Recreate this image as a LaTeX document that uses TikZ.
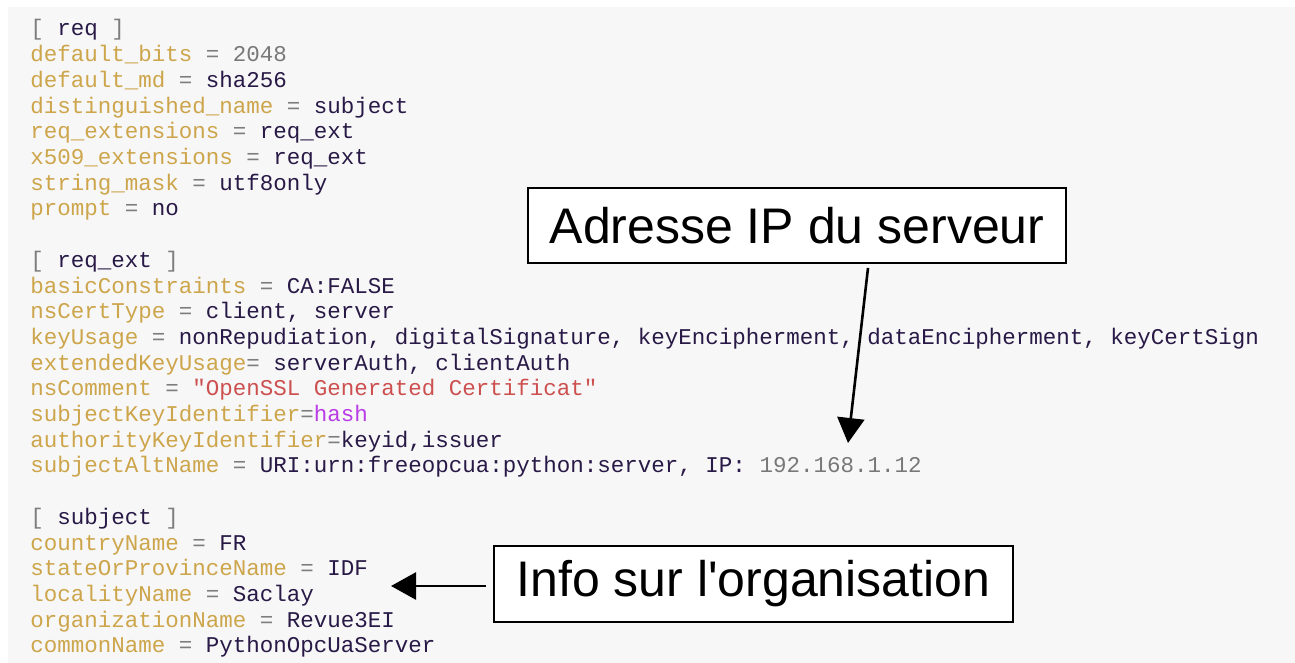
\documentclass[tikz,border=0pt]{standalone}
\usepackage{fontspec}
\setmainfont{Liberation Sans}
\setmonofont{Liberation Mono}
\usetikzlibrary{arrows.meta}
\definecolor{bggray}{RGB}{247,247,247}
\definecolor{keycol}{RGB}{205,165,75}
\definecolor{valcol}{RGB}{40,25,70}
\definecolor{punctcol}{RGB}{125,125,125}
\definecolor{numcol}{RGB}{120,120,120}
\definecolor{strcol}{RGB}{205,80,80}
\definecolor{hashcol}{RGB}{185,60,230}
\newcommand{\cfgkey}[1]{\textcolor{keycol}{#1}}
\newcommand{\cfgval}[1]{\textcolor{valcol}{#1}}
\newcommand{\cfgeq}[1]{\textcolor{punctcol}{#1}}
\newcommand{\cfgnum}[1]{\textcolor{numcol}{#1}}
\tikzstyle{codeline} = [anchor=base west, inner sep=0pt,
font=\ttfamily\fontsize{11.25}{12}\selectfont]
\tikzstyle{callout} = [rectangle,
draw=black,
line width=1pt,
fill=white,
inner sep=0pt,
text centered,
font=\fontsize{25}{30}\selectfont]
\tikzstyle{arrow} = [line width=1.3pt,-{Triangle[length=12.5pt,width=13.5pt]}]

\begin{document}
\begin{tikzpicture}[x=0.5pt, y=-0.5pt]
        \useasboundingbox (0,0) rectangle (1295,663);
        \fill[bggray] (8,7) rectangle (1295,663);

        % section [ req ]
        \node (req) [codeline] at (30,36) {\cfgeq{[} \cfgval{req} \cfgeq{]}};
        \node (default_bits) [codeline] at (30,61.7) {\cfgkey{default\_bits} \cfgeq{=} \cfgnum{2048}};
        \node (default_md) [codeline] at (30,87.4) {\cfgkey{default\_md} \cfgeq{=} \cfgval{sha256}};
        \node (dist_name) [codeline] at (30,113.1) {\cfgkey{distinguished\_name} \cfgeq{=} \cfgval{subject}};
        \node (req_extensions) [codeline] at (30,138.8) {\cfgkey{req\_extensions} \cfgeq{=} \cfgval{req\_ext}};
        \node (x509_extensions) [codeline] at (30,164.5) {\cfgkey{x509\_extensions} \cfgeq{=} \cfgval{req\_ext}};
        \node (string_mask) [codeline] at (30,190.2) {\cfgkey{string\_mask} \cfgeq{=} \cfgval{utf8only}};
        \node (prompt) [codeline] at (30,215.9) {\cfgkey{prompt} \cfgeq{=} \cfgval{no}};

        % section [ req_ext ]
        \node (req_ext) [codeline] at (30,267.3) {\cfgeq{[} \cfgval{req\_ext} \cfgeq{]}};
        \node (basic_constraints) [codeline] at (30,293) {\cfgkey{basicConstraints} \cfgeq{=} \cfgval{CA:FALSE}};
        \node (ns_cert_type) [codeline] at (30,318.7) {\cfgkey{nsCertType} \cfgeq{=} \cfgval{client, server}};
        \node (key_usage) [codeline] at (30,344.4) {\cfgkey{keyUsage} \cfgeq{=} \cfgval{nonRepudiation, digitalSignature, keyEncipherment, dataEncipherment, keyCertSign}};
        \node (ext_key_usage) [codeline] at (30,370.1) {\cfgkey{extendedKeyUsage}\cfgeq{=} \cfgval{serverAuth, clientAuth}};
        \node (ns_comment) [codeline] at (30,395.8) {\cfgkey{nsComment} \cfgeq{=} \textcolor{strcol}{"OpenSSL Generated Certificat"}};
        \node (subject_key_id) [codeline] at (30,421.5) {\cfgkey{subjectKeyIdentifier}\cfgeq{=}\textcolor{hashcol}{hash}};
        \node (authority_key_id) [codeline] at (30,447.2) {\cfgkey{authorityKeyIdentifier}\cfgeq{=}\cfgval{keyid,issuer}};
        \node (subject_alt_name) [codeline] at (30,472.9) {\cfgkey{subjectAltName} \cfgeq{=} \cfgval{URI:urn:freeopcua:python:server, IP:} \cfgnum{192.168.1.12}};

        % section [ subject ]
        \node (subject) [codeline] at (30,524.3) {\cfgeq{[} \cfgval{subject} \cfgeq{]}};
        \node (country) [codeline] at (30,550) {\cfgkey{countryName} \cfgeq{=} \cfgval{FR}};
        \node (state) [codeline] at (30,575.7) {\cfgkey{stateOrProvinceName} \cfgeq{=} \cfgval{IDF}};
        \node (locality) [codeline] at (30,601.4) {\cfgkey{localityName} \cfgeq{=} \cfgval{Saclay}};
        \node (organization) [codeline] at (30,627.1) {\cfgkey{organizationName} \cfgeq{=} \cfgval{Revue3EI}};
        \node (common_name) [codeline] at (30,652.8) {\cfgkey{commonName} \cfgeq{=} \cfgval{PythonOpcUaServer}};

        % callouts
        \node (ip_box) [callout, minimum width=269pt, minimum height=37.5pt] at (797,225.5) {Adresse IP du serveur};
        \node (org_box) [callout, minimum width=259.5pt, minimum height=38pt] at (753.5,584) {Info sur l\textquotesingle organisation};
        \coordinate (ip_tip) at (848,443);
        \coordinate (org_tip) at (391,586);

        \draw [arrow] ([xshift=35.5pt,yshift=-2pt]ip_box.south) -- (ip_tip);
        \draw [arrow] ([xshift=-3.5pt,yshift=-1pt]org_box.west) -- (org_tip);
    \end{tikzpicture}
\end{document}
